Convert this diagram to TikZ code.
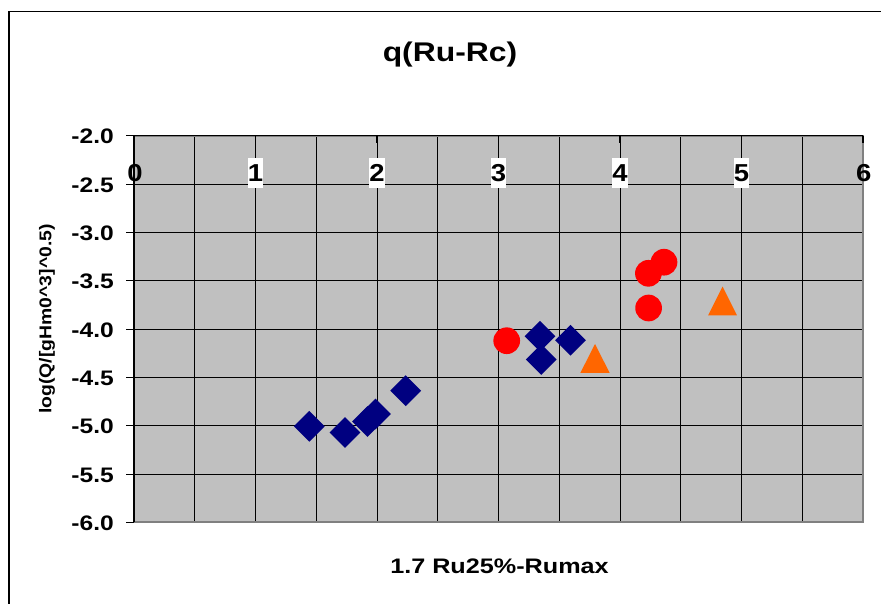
\documentclass[tikz,border=0pt]{standalone}
\usepackage{fontspec}
\setmainfont{Liberation Sans}
\usetikzlibrary{shapes.geometric}
\definecolor{plotbg}{HTML}{C0C0C0}
\definecolor{bordergray}{HTML}{808080}
\definecolor{navy}{HTML}{000080}
\definecolor{mred}{HTML}{FF0000}
\definecolor{morange}{HTML}{FF6600}
\begin{document}
\begin{tikzpicture}[x=1pt,y=-1pt,
  diam/.style={diamond, fill=navy, draw=none, inner sep=0pt, minimum width=31pt, minimum height=31pt, aspect=1},
  dot/.style={circle, fill=mred, draw=none, inner sep=0pt, minimum size=26.7pt},
  tri/.style={fill=morange},
  gridline/.style={black, line width=0.9pt},
  tickline/.style={black, line width=0.9pt},
  ytick label/.style={anchor=east, inner sep=0pt, font=\fontsize{21}{21}\selectfont\bfseries},
  xtick label/.style={inner sep=0pt, minimum width=15pt, minimum height=30pt, font=\fontsize{24.5}{24.5}\selectfont\bfseries},
]
\useasboundingbox (0,0) rectangle (881,603);
\clip (0,0) rectangle (881,603);
\fill[white] (0,0) rectangle (881,603);
% outer chart frame
\draw[black, line width=1.6pt] (9,700) -- (9,11.5) -- (900,11.5);
% plot area
\coordinate (pa-nw) at (134,135.7);
\coordinate (pa-se) at (863,522.3);
\fill[plotbg] (pa-nw) rectangle (pa-se);
\foreach \i in {1,...,11} \draw[gridline] ({134+60.75*\i},135.7) -- ({134+60.75*\i},522.3);
\foreach \j in {1,...,7} \draw[gridline] (134,{135.7+48.33*\j}) -- (863,{135.7+48.33*\j});
\draw[bordergray, line width=2pt] (pa-nw) rectangle (pa-se);
% axes
\draw[black, line width=1.2pt] (134,522.3) -- (134,135.7) -- (863,135.7);
\foreach \i in {0,...,6} \draw[tickline, line width=1.4pt] ({134+121.5*\i},135.7) -- ({134+121.5*\i},142.5);
% y ticks and labels
\foreach \v [count=\k from 0] in {-2.0,-2.5,-3.0,-3.5,-4.0,-4.5,-5.0,-5.5,-6.0} {
  \draw[tickline] (126,{135.7+48.33*\k}) -- (134,{135.7+48.33*\k});
  \node[ytick label] (yl\k) at (114,{136.7+48.33*\k}) {\scalebox{1.17}[1]{\v}};
}
% data: diamonds
\node[diam] (d1) at (309.3,426.3) {};
\node[diam] (d2) at (345,432.5) {};
\node[diam] (d3) at (367.5,421.5) {};
\node[diam] (d4) at (375.5,414) {};
\node[diam] (d5) at (405.7,390.7) {};
\node[diam] (d6) at (540,336.3) {};
\node[diam] (d7) at (541.2,359.5) {};
\node[diam] (d8) at (570.5,340.3) {};
% data: circles
\node[dot] (c1) at (506.7,340.7) {};
\node[dot] (c2) at (648.6,308) {};
\node[dot] (c4) at (648.4,273.3) {};
\node[dot] (c3) at (664,262.2) {};
% data: triangles
\coordinate (t1) at (595,358.4);
\coordinate (t2) at (722.5,300.9);
\fill[tri] (t1) +(0,-14.4) -- +(14.6,14.4) -- +(-14.6,14.4) -- cycle;
\fill[tri] (t2) +(0,-14.4) -- +(14.4,14.4) -- +(-14.4,14.4) -- cycle;
% x tick labels
\node[xtick label] (xl0) at (135,173.3) {\scalebox{1.12}[1]{0}};
\foreach \k in {1,...,5}
  \node[xtick label, fill=white] (xl\k) at ({134+121.5*\k},173.3) {\scalebox{1.12}[1]{\k}};
\node[xtick label] (xl6) at (863.7,173.3) {\scalebox{1.12}[1]{6}};
% titles
\node[anchor=base, inner sep=0pt, font=\fontsize{27}{27}\selectfont\bfseries] (title) at (450,61.7) {\scalebox{1.18}[1]{q(Ru-Rc)}};
\node[anchor=base, inner sep=0pt, font=\fontsize{21}{21}\selectfont\bfseries] (xtitle) at (499.5,573.3) {\scalebox{1.2}[1]{1.7 Ru25\%-Rumax}};
\node[inner sep=0pt, rotate=90, font=\fontsize{17}{17}\selectfont\bfseries] (ytitle) at (47,319) {\scalebox{1.14}[1]{log(Q/[gHm0\^{}3]\^{}0.5)}};
\end{tikzpicture}
\end{document}
